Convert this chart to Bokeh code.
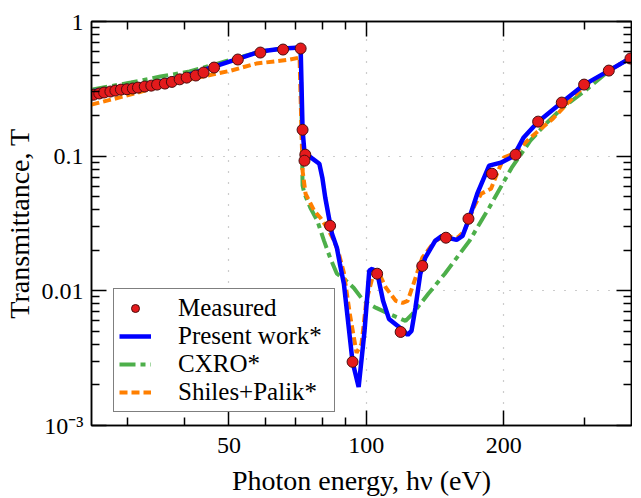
from bokeh.plotting import figure
from bokeh.models import (FixedTicker, LogAxis, CustomJSTickFormatter, Legend, LegendItem)
from bokeh.embed import file_html
from bokeh.resources import INLINE

# ---------------- data ----------------
meas_E = [25.25, 26.0, 26.65, 27.5, 28.2, 29.0, 29.9, 30.8, 31.6, 32.7, 33.8, 34.8,
          36.2, 37.5, 39.0, 40.4, 42.3, 44.0, 46.4, 52.3, 58.6, 65.7, 71.8, 72.5,
          73.5, 73.2, 83.3, 93.3, 105.6, 118.9, 132.6, 149.4, 167.4, 188.5, 212.3,
          237.9, 268.0, 300.0, 339.8, 379.0]
meas_T = [0.286, 0.292, 0.297, 0.302, 0.307, 0.312, 0.314, 0.318, 0.323, 0.329, 0.334, 0.340,
          0.346, 0.356, 0.372, 0.383, 0.397, 0.418, 0.455, 0.522, 0.588, 0.619, 0.630, 0.157,
          0.1026, 0.0926, 0.0304, 0.00297, 0.0134, 0.00495, 0.0153, 0.0248, 0.0343, 0.0741, 0.1026,
          0.1805, 0.250, 0.340, 0.432, 0.531]

pw_E = [25.0, 29.0, 33.6, 39.0, 46.4, 52.5, 58.6, 65.7, 71.8, 72.5, 73.2, 76.2, 78.9,
        80.1, 81.3, 82.9, 84.1, 86.2, 87.5, 89.3, 93.3, 96.2, 99.1, 101.5, 103.1, 106.2,
        108.8, 112.1, 117.2, 120.7, 123.2, 125.6, 128.1, 131.3, 134.6, 141.5, 146.5, 150.9,
        157.7, 162.5, 168.2, 175.0, 185.8, 197.1, 207.1, 213.4, 220.9, 237.9, 267.9, 300.3,
        339.9, 381.0]
pw_T = [0.302, 0.323, 0.346, 0.383, 0.463, 0.531, 0.598, 0.630, 0.641, 0.157, 0.106, 0.0958, 0.0879,
        0.0692, 0.0491, 0.0343, 0.0265, 0.0209, 0.0159, 0.0113, 0.00296, 0.00193, 0.00504, 0.0141, 0.0146, 0.0125,
        0.00843, 0.00619, 0.00549, 0.00504, 0.00471, 0.00504, 0.00747, 0.0134, 0.0176, 0.0235, 0.0256, 0.0248,
        0.0239, 0.0256, 0.0349, 0.0526, 0.0850, 0.0895, 0.0975, 0.110, 0.137, 0.180, 0.250, 0.340,
        0.432, 0.540]

cx_E = [25.0, 30.5, 35.4, 41.0, 46.4, 52.5, 58.6, 65.7, 71.8, 72.5, 73.2, 75.4, 78.1, 80.8,
        83.3, 86.2, 89.3, 93.8, 98.6, 105.1, 112.1, 121.9, 126.2, 136.7, 148.6, 168.2, 185.8,
        208.2, 228.7, 247.5, 269.3, 301.8, 344.9, 381.0]
cx_T = [0.312, 0.352, 0.390, 0.425, 0.479, 0.540, 0.598, 0.630, 0.641, 0.0604, 0.0526, 0.0414, 0.0331, 0.0235,
        0.0176, 0.0134, 0.0123, 0.01053, 0.00843, 0.00747, 0.00675, 0.00598, 0.00675, 0.0095, 0.0134, 0.0235, 0.0414,
        0.0821, 0.1304, 0.1744, 0.2294, 0.307, 0.447, 0.540]

sp_E = [25.0, 28.7, 34.0, 40.0, 50.5, 57.4, 68.0, 71.4, 72.5, 73.6, 76.9, 79.3, 82.1, 85.0,
        87.1, 89.3, 92.0, 95.2, 97.6, 100.0, 104.1, 106.7, 110.4, 116.0, 120.1, 123.2, 126.9,
        132.6, 141.5, 148.6, 158.5, 164.1, 172.5, 178.5, 187.6, 193.3, 200.0, 212.3, 228.7,
        256.3, 300.3, 339.9, 381.0]
sp_T = [0.2415, 0.272, 0.3177, 0.364, 0.432, 0.487, 0.522, 0.540, 0.0780, 0.0526, 0.0393, 0.0349, 0.0294, 0.0235,
        0.0188, 0.0136, 0.00675, 0.00346, 0.00404, 0.00843, 0.0141, 0.0134, 0.01053, 0.00843, 0.00814, 0.00843, 0.0113,
        0.0176, 0.0235, 0.0256, 0.0248, 0.0279, 0.0429, 0.0526, 0.0573, 0.0741, 0.0975, 0.1062, 0.137,
        0.190, 0.334, 0.432, 0.540]

x_ticks = [50, 100, 200]
x_tick_labels = ["50", "100", "200"]
x_minor = [30, 40, 60, 70, 80, 90, 300]
y_ticks = [0.001, 0.01, 0.1, 1]
y_tick_labels = ["10\u207b\u00b3", "0.01", "0.1", "1"]
y_minor = [m * d for d in (0.001, 0.01, 0.1) for m in range(2, 10)]

FONT = "'Liberation Serif', 'Times New Roman', serif"

p = figure(width=632, height=498, x_axis_type="log", y_axis_type="log",
           x_range=(25, 381), y_range=(0.001, 1),
           output_backend="svg", toolbar_location=None,
           min_border_left=82, min_border_top=21, min_border_right=1, min_border_bottom=10)
p.outline_line_color = "black"
p.outline_line_width = 1.5

xt = FixedTicker(ticks=x_ticks, minor_ticks=x_minor)
yt = FixedTicker(ticks=y_ticks, minor_ticks=y_minor)

fmt_code = """
let best = 0, bd = 1e9;
for (let i = 0; i < vals.length; i++) {
  const d = Math.abs(Math.log(tick) - Math.log(vals[i]));
  if (d < bd) { bd = d; best = i; }
}
return labs[best];
"""
xfmt = CustomJSTickFormatter(args=dict(vals=x_ticks, labs=x_tick_labels), code=fmt_code)
yfmt = CustomJSTickFormatter(args=dict(vals=y_ticks, labs=y_tick_labels), code=fmt_code)
blank = CustomJSTickFormatter(code="return '';")

def style_axis(ax, labels=True):
    ax.axis_line_color = "black"
    ax.axis_line_width = 1.5
    ax.major_tick_line_color = "black"
    ax.major_tick_line_width = 1.5
    ax.minor_tick_line_color = "black"
    ax.minor_tick_line_width = 1.5
    ax.major_tick_in = 15
    ax.major_tick_out = 0
    ax.minor_tick_in = 8
    ax.minor_tick_out = 0
    if labels:
        ax.major_label_text_font = FONT
        ax.major_label_text_font_size = "24px"
        ax.major_label_text_color = "black"
        ax.axis_label_text_font = FONT
        ax.axis_label_text_font_size = "28px"
        ax.axis_label_text_font_style = "normal"
        ax.axis_label_text_color = "black"
    else:
        ax.major_label_standoff = 0

xa = p.xaxis[0]
ya = p.yaxis[0]
xa.ticker = xt
ya.ticker = yt
xa.formatter = xfmt
ya.formatter = yfmt
style_axis(xa)
style_axis(ya)
xa.axis_label = "Photon energy, h\u03bd (eV)"
ya.axis_label = "Transmittance, T"
xa.major_label_standoff = 12
xa.axis_label_standoff = 9
ya.major_label_standoff = 8
ya.axis_label_standoff = 4

top = LogAxis(ticker=xt, formatter=blank)
right = LogAxis(ticker=yt, formatter=blank)
style_axis(top, labels=False)
style_axis(right, labels=False)
p.add_layout(top, "above")
p.add_layout(right, "right")

for g in (p.xgrid[0], p.ygrid[0]):
    g.grid_line_color = "#999999"
    g.grid_line_dash = "1 10"
    g.grid_line_width = 1.2
p.xgrid[0].ticker = xt
p.ygrid[0].ticker = yt

r_cx = p.line(cx_E, cx_T, line_color="#4daf4a", line_width=4, line_dash="16 5 5 5")
r_sp = p.line(sp_E, sp_T, line_color="#ff7f00", line_width=4, line_dash="8 4")
r_pw = p.line(pw_E, pw_T, line_color="#0000ff", line_width=4.5)
r_me = p.scatter(meas_E, meas_T, size=11, fill_color="#e41a1c", line_color="#4a0d0d", line_width=1)

legend = Legend(items=[
    LegendItem(label="Measured", renderers=[r_me]),
    LegendItem(label="Present work*", renderers=[r_pw]),
    LegendItem(label="CXRO*", renderers=[r_cx]),
    LegendItem(label="Shiles+Palik*", renderers=[r_sp]),
], location=(22, 13))
legend.label_text_font = FONT
legend.label_text_font_size = "25px"
legend.label_text_color = "black"
legend.border_line_color = "black"
legend.border_line_width = 1.5
legend.background_fill_color = "white"
legend.background_fill_alpha = 1
legend.padding = 5
legend.spacing = 0
legend.glyph_width = 32
legend.label_standoff = 27
legend.label_width = 151
legend.margin = 0
p.add_layout(legend)

open("out.html", "w").write(file_html(p, INLINE))
